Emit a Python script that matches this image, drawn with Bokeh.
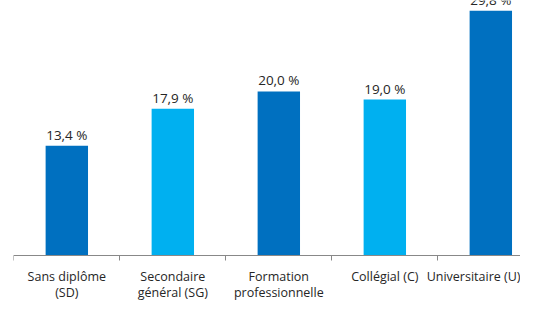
from bokeh.plotting import figure
from bokeh.models import ColumnDataSource, FixedTicker
from bokeh.core.properties import value
from bokeh.embed import file_html
from bokeh.resources import INLINE

categories = ["Sans diplôme (SD)", "Secondaire général (SG)", "Formation professionnelle (FP)",
              "Collégial (C)", "Universitaire (U)"]
tick_labels = ["Sans diplôme\n(SD)", "Secondaire\ngénéral (SG)", "Formation\nprofessionnelle\n(FP)",
               "Collégial (C)", "Universitaire (U)"]
values = [13.4, 17.9, 20.0, 19.0, 29.8]
colors = ["#0070C0", "#00B0F0", "#0070C0", "#00B0F0", "#0070C0"]

xs = list(range(len(categories)))
labels = [f"{v:.1f}".replace(".", ",") + " %" for v in values]

src = ColumnDataSource(dict(x=xs, top=values, color=colors, label=labels, cat=categories))

FONT = "Open Sans"
TXT = "#262626"
p = figure(width=520, height=300, output_backend="svg", toolbar_location=None,
           x_range=(-0.503, 4.280), y_range=(-5.44, 31.06),
           min_border_left=13, min_border_right=0, min_border_top=0, min_border_bottom=0)
p.outline_line_color = None
p.xgrid.visible = False
p.ygrid.visible = False
p.yaxis.visible = False

p.vbar(x="x", top="top", width=0.4, color="color", source=src, line_color=None)
p.text(x="x", y="top", text="label", source=src, text_align="center", text_baseline="alphabetic",
       y_offset=-11, text_font=value(FONT), text_font_size="13.5px", text_color=TXT)

ax = p.xaxis[0]
ax.fixed_location = 0
ax.ticker = FixedTicker(ticks=xs, minor_ticks=[i - 0.5 for i in range(len(xs) + 1)])
ax.major_label_overrides = {i: t for i, t in enumerate(tick_labels)}
ax.major_tick_out = 0
ax.major_tick_in = 0
ax.minor_tick_out = 5
ax.minor_tick_in = 0
ax.minor_tick_line_color = "#888888"
ax.axis_line_color = "#888888"
ax.major_label_standoff = 7
ax.major_label_text_font = FONT
ax.major_label_text_font_size = "12.5px"
ax.major_label_text_color = TXT
ax.major_label_text_line_height = 0.95

open("out.html", "w").write(file_html(p, INLINE))
